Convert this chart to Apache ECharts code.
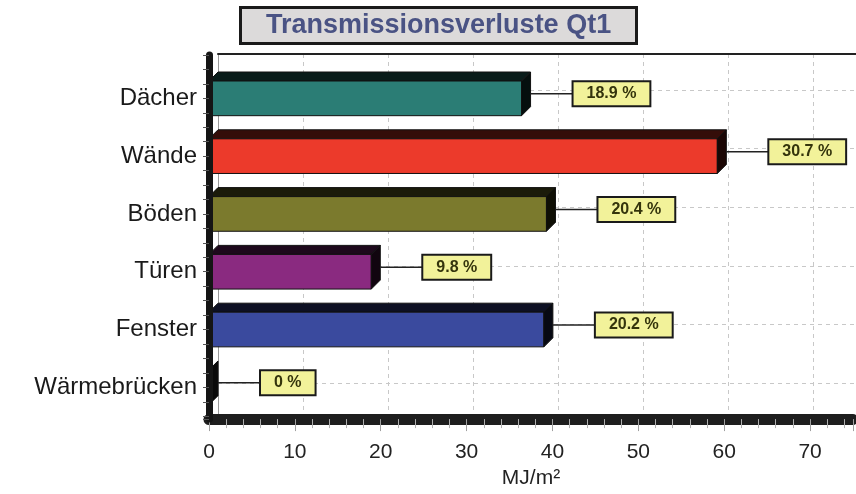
<!DOCTYPE html>
<html>
<head>
<meta charset="utf-8">
<title>Transmissionsverluste Qt1</title>
<script src="https://cdn.jsdelivr.net/npm/echarts@6/dist/echarts.min.js"></script>
<style>
  html, body { margin: 0; padding: 0; background: #ffffff; }
  #chart { width: 856px; height: 494px; }
</style>
</head>
<body>
<div id="chart"></div>
<script>
// Building components and their transmission losses (MJ/m²)
const categories = ['Dächer', 'Wände', 'Böden', 'Türen', 'Fenster', 'Wärmebrücken'];
const losses = [36.4, 59.2, 39.3, 18.9, 39.0, 0];
const barColors = ['#2b7d75', '#ec3a2b', '#7b7a2d', '#8a2a80', '#3a4a9e', '#555555'];
const xTicks = [0, 10, 20, 30, 40, 50, 60, 70];

const total = losses.reduce((a, b) => a + b, 0);
const shareText = losses.map(v => `${+(v / total * 100).toFixed(1)} %`);

const FONT = 'Liberation Sans, Arial, sans-serif';
const DEPTH = 9;

function shade(hex, f) {
  const n = parseInt(hex.slice(1), 16);
  const r = Math.round(((n >> 16) & 255) * f);
  const g = Math.round(((n >> 8) & 255) * f);
  const b = Math.round((n & 255) * f);
  return `rgb(${r},${g},${b})`;
}

// 3D-looking horizontal bar with a callout box holding the share
function renderBar(params, api) {
  const idx = api.value(1);
  const v = api.value(0);
  const base = api.coord([0, idx]);
  const end = api.coord([v, idx]);
  const band = api.size([0, 1])[1];
  const h = band * 0.6;
  const top = base[1] - h / 2;
  const bottom = base[1] + h / 2;
  const x0 = base[0];
  const xe = end[0];
  const d = DEPTH;
  const col = barColors[idx];
  const lineY = base[1] - d / 2;
  const tipX = xe + d;
  return {
    type: 'group',
    children: [
      {
        type: 'polygon',
        shape: { points: [[x0, top], [x0 + d, top - d], [xe + d, top - d], [xe, top]] },
        style: { fill: shade(col, 0.22), stroke: '#111', lineWidth: 1 }
      },
      {
        type: 'rect',
        shape: { x: x0, y: top, width: Math.max(xe - x0, 0), height: h },
        style: { fill: col, stroke: '#111', lineWidth: 1 }
      },
      {
        type: 'polygon',
        shape: { points: [[xe, top], [xe + d, top - d], [xe + d, bottom - d], [xe, bottom]] },
        style: { fill: shade(col, 0.12), stroke: '#111', lineWidth: 1 }
      },
      {
        type: 'line',
        shape: { x1: tipX, y1: lineY, x2: tipX + 43, y2: lineY },
        style: { stroke: '#222', lineWidth: 1.5 }
      },
      {
        type: 'text',
        x: tipX + 43,
        y: lineY,
        style: {
          text: shareText[idx],
          fill: '#34340c',
          font: `bold 16px ${FONT}`,
          align: 'left',
          verticalAlign: 'middle',
          backgroundColor: '#f2f29a',
          borderColor: '#1a1a1a',
          borderWidth: 2,
          padding: [4, 13, 3, 13]
        }
      }
    ]
  };
}

const option = {
  backgroundColor: '#ffffff',
  animation: false,
  title: {
    text: 'Transmissionsverluste Qt1',
    left: 240,
    top: 7,
    backgroundColor: '#dcdada',
    borderColor: '#1a1a1a',
    borderWidth: 3,
    padding: [4, 26, 4, 26],
    textStyle: {
      fontFamily: FONT,
      fontSize: 27,
      fontWeight: 'bold',
      color: '#4a5384',
      lineHeight: 29
    }
  },
  grid: [
    // back wall
    { left: 218, top: 54, width: 652, height: 364 },
    // back wall horizontal guides
    { left: 218, top: 90, width: 652, height: 293 },
    // front frame with the bars
    { left: 209, top: 55, width: 652, height: 369 }
  ],
  xAxis: [
    {
      gridIndex: 0, type: 'value', min: 0, max: 75, interval: 10, position: 'top',
      axisLine: { show: true, onZero: false, lineStyle: { color: '#222', width: 2 } },
      axisTick: { show: false }, axisLabel: { show: false },
      splitLine: { show: true, lineStyle: { color: '#c8c8c8', type: [4, 4], width: 1 } }
    },
    {
      gridIndex: 1, type: 'value', min: 0, max: 75, show: false
    },
    {
      gridIndex: 2, type: 'value', min: 0, max: 75, interval: 10,
      name: 'MJ/m²', nameLocation: 'middle', nameGap: 47,
      nameTextStyle: { fontFamily: FONT, fontSize: 21, color: '#222' },
      axisLine: { show: true, onZero: false, lineStyle: { color: '#1e1e1e', width: 11 } },
      axisTick: { show: true, length: 12, lineStyle: { color: '#a0a0a0' } },
      minorTick: { show: true, splitNumber: 5, length: 9, lineStyle: { color: '#b0b0b0' } },
      axisLabel: {
        margin: 23, fontFamily: FONT, fontSize: 21, color: '#222',
        formatter: v => (xTicks.includes(v) ? String(v) : '')
      },
      splitLine: { show: false }
    }
  ],
  yAxis: [
    {
      gridIndex: 0, type: 'value', min: 0, max: 1,
      axisLine: { show: true, onZero: false, lineStyle: { color: '#9a9a9a', width: 1 } },
      axisTick: { show: false }, axisLabel: { show: false }, splitLine: { show: false }
    },
    {
      gridIndex: 1, type: 'value', min: 0, max: 5, interval: 1, inverse: true,
      axisLine: { show: false }, axisTick: { show: false }, axisLabel: { show: false },
      splitLine: { show: true, lineStyle: { color: '#c8c8c8', type: [4, 4], width: 1 } }
    },
    {
      gridIndex: 2, type: 'value', min: -0.75, max: 5.55, interval: 0.25, inverse: true,
      z: 5,
      axisLine: { show: true, onZero: false, lineStyle: { color: '#151515', width: 7 } },
      axisTick: { show: true, length: 6, lineStyle: { color: '#555' } },
      axisLabel: {
        margin: 12, fontFamily: FONT, fontSize: 24, color: '#1a1a1a',
        formatter: v => {
          const i = Math.round(v);
          return Math.abs(v - i) < 1e-6 && categories[i] ? categories[i] : '';
        }
      },
      splitLine: { show: false }
    }
  ],
  series: [
    {
      type: 'custom',
      xAxisIndex: 2,
      yAxisIndex: 2,
      z: 3,
      renderItem: renderBar,
      encode: { x: 0, y: 1 },
      data: losses.map((v, i) => [v, i])
    }
  ]
};

const chart = echarts.init(document.getElementById('chart'), null, { renderer: 'canvas' });
chart.setOption(option);
</script>
</body>
</html>
